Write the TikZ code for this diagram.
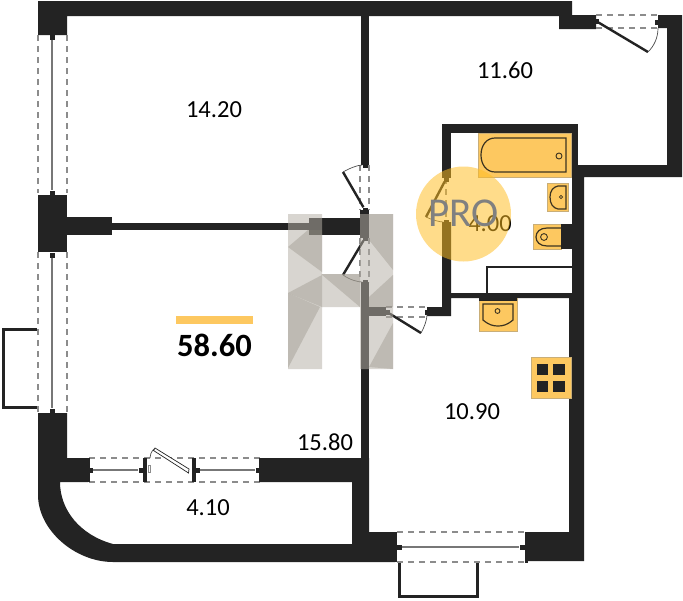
\documentclass[tikz,border=0pt]{standalone}
\usepackage{fontspec}
\setmainfont{Carlito}
\definecolor{wall}{HTML}{232323}
\definecolor{fixt}{HTML}{FDC860}
\definecolor{fixtedge}{HTML}{C9AE78}
\definecolor{logoa}{HTML}{B6B0A6}
\definecolor{logob}{HTML}{8A8578}
\definecolor{dashc}{HTML}{8C8C8C}
\definecolor{proc}{HTML}{FFBD20}
\tikzset{
  wallfill/.style={fill=wall,draw=none},
  glass/.style={draw=dashc,line width=1.1pt,dash pattern=on 6pt off 5pt},
  pane/.style={draw=dashc!85!black,line width=1.1pt},
  leaf/.style={draw=wall,line width=2.4pt},
  swing/.style={draw=wall!80,line width=.7pt},
  fixture/.style={fill=fixt,draw=fixtedge,line width=.6pt},
  fixline/.style={draw=wall!70!fixt!60!black,line width=1.2pt},
  thinwall/.style={draw=wall,line width=2.4pt},
  area/.style={text=black,font=\fontsize{24.5}{26}\selectfont,inner sep=0pt},
  logobase/.style={fill=logoa,fill opacity=.52,draw=none},
  logoshade/.style={fill=logob,fill opacity=.33,draw=none},
  stud/.style={fill=wall,draw=none,minimum size=5pt,inner sep=0pt,rectangle}
}
\begin{document}
\begin{tikzpicture}[x=1pt,y=-1pt]
\useasboundingbox (0,0) rectangle (683,600);
\fill[white] (0,0) rectangle (683,600);

% outer and partition walls
\fill[wallfill] (38,1) -- (572,1) -- (572,15) -- (596,15) -- (596,29) -- (559,29) -- (559,16) -- (67,16) -- (67,35) -- (38,35) -- cycle;
\fill[wallfill] (658,15) -- (682,15) -- (682,177) -- (584,177) -- (584,561) -- (525,561) -- (525,532) -- (569,532) -- (569,298) -- (572,298) -- (572,165) -- (667,165) -- (667,28) -- (658,28) -- cycle;
\fill[wallfill] (361,16) rectangle (369,165);
% bathroom box
\fill[wallfill] (442,124) rectangle (578,133);
\fill[wallfill] (572,124) rectangle (578,177);
\fill[wallfill] (442,124) rectangle (451,178);
\fill[wallfill] (442,222) -- (451,222) -- (451,293) -- (572,293) -- (572,298) -- (451,298) -- (451,316) -- (427,316) -- (427,307) -- (442,307) -- cycle;
\draw[thinwall] (487,293) -- (487,267) -- (572,267);
% bedroom divider
\fill[wallfill] (38,195) rectangle (67,252);
\fill[wallfill] (67,217) rectangle (112,235);
\fill[wallfill] (112,223) rectangle (310,230);
\fill[wallfill] (309,218) rectangle (369,235);
\fill[wallfill] (360,210) rectangle (369,238);
% central wall, lower
\fill[wallfill] (361,282) rectangle (369,532);
\fill[wallfill] (369,307) rectangle (386,316);
% loggia and lower-left block
\fill[wallfill] (38,413) -- (67,413) -- (67,458) -- (88,458) -- (88,482) -- (60,482)
  .. controls (60,510) and (80,535) .. (113,544) -- (352,544) -- (352,482) -- (260,482) -- (260,458) -- (369,458)
  -- (369,532) -- (395,532) -- (395,562) -- (113,562) .. controls (75,562) and (38,530) .. (38,495) -- cycle;

% left windows
\draw[glass] (38,35) -- (38,193) (67,35) -- (67,193);
\draw[glass] (38,252) -- (38,413) (67,252) -- (67,413);
\node[stud] (w1a) at (52,37) {};
\node[stud] (w1b) at (52,193) {};
\node[stud] (w2a) at (52,255) {};
\node[stud] (w2b) at (52,411) {};
\draw[pane] (w1a) -- (w1b);
\draw[pane] (w2a) -- (w2b);

% left balcony
\coordinate (lb1) at (37,329.5);
\coordinate (lb2) at (37,407.5);
\draw[draw=wall,line width=3pt] (lb1) -- (3.5,329.5) -- (3.5,407.5) -- (lb2);

% loggia window with door
\draw[glass] (89,458) -- (260,458) (89,482) -- (260,482);
\fill[wall] (87.5,458) rectangle (89.5,482);
\fill[wall] (259,458) rectangle (264,482);
\fill[wall] (143,458) rectangle (147,482);
\fill[wall] (192,458) rectangle (196,482);
\node[stud] (l1) at (90,470) {};
\node[stud] (l2) at (141,470) {};
\node[stud] (l3) at (197,470) {};
\node[stud] (l4) at (258,470) {};
\draw[pane] (l1) -- (l2);
\draw[pane] (l3) -- (l4);
\draw[draw=wall,line width=.7pt,fill=white] (189,469) -- (155,448) -- (153.5,450.5) -- (188.5,473) -- cycle;
\draw[swing] (154,449) .. controls (151,452) and (150,455) .. (150,458);
\draw[draw=dashc,line width=.7pt] (148,465) rectangle (150,472);

% bottom window and balcony
\draw[glass] (397,532) -- (525,532) (397,562) -- (525,562);
\fill[wall] (393,532) rectangle (397,562);
\fill[wall] (525,532) rectangle (528,563);
\node[stud] (b1) at (399,547) {};
\node[stud] (b2) at (522,547) {};
\draw[pane] (b1) -- (b2);
\coordinate (bb1) at (399,563);
\coordinate (bb2) at (477,563);
\draw[draw=wall,line width=3pt] (bb1) -- (399,596) -- (477,596) -- (bb2);

% top-right door
\draw[glass] (596,15) -- (658,15) (596,28) -- (658,28);
\node[stud] (d1h) at (596,21) {};
\coordinate (d1e) at (648,52);
\node[stud] (d1s) at (657,22) {};
\draw[leaf] (d1h) -- (d1e);
\draw[swing] (d1e) .. controls (654,46) and (658,38) .. (658,28);

% doors in the central wall
\draw[glass] (360,165) -- (360,210) (369,165) -- (369,210);
\draw[glass] (360,238) -- (360,282) (369,238) -- (369,282);
\node[stud] (d2a) at (365,165) {};
\node[stud] (d2b) at (365,210) {};
\coordinate (d2e) at (343,172);
\draw[leaf] (d2b) -- (d2e);
\draw[swing] (d2e) .. controls (350,168) and (358,165) .. (d2a);
\node[stud] (d3a) at (365,238) {};
\node[stud] (d3b) at (365,282) {};
\coordinate (d3e) at (343,275);
\draw[leaf] (d3a) -- (d3e);
\draw[swing] (d3e) .. controls (350,280) and (358,282) .. (d3b);

% corridor door
\draw[glass] (386,307) -- (427,307) (386,317) -- (427,317);
\node[stud] (d4a) at (387,312) {};
\node[stud] (d4b) at (427,312) {};
\coordinate (d4e) at (421,333);
\draw[leaf] (d4a) -- (d4e);
\draw[swing] (d4e) .. controls (424,328) and (427,320) .. (d4b);

% bathroom door
\draw[glass] (446,178) -- (446,222);
\node[stud] (d5a) at (446,179) {};
\node[stud] (d5b) at (446,222) {};
\coordinate (d5e) at (426,217);
\draw[leaf] (d5a) -- (d5e);
\draw[swing] (d5e) .. controls (432,220) and (440,222) .. (d5b);

% bath
\fill[fixture] (478,133) rectangle (571,177);
\draw[fixline] (495,138) -- (566,138) -- (566,172) -- (495,172) .. controls (486,172) and (481,164) .. (481,155) .. controls (481,146) and (486,138) .. (495,138) -- cycle;
\draw[fixline,line width=.9pt] (559,156) circle (3);
% washbasin in bathroom
\fill[fixture] (547,183) rectangle (568,211);
\draw[fixline] (566,186) -- (558,186) .. controls (553,187) and (550,191) .. (550,197) .. controls (550,204) and (553,208) .. (558,209) -- (566,209) -- cycle;
\draw[fixline,line width=.8pt] (561,197) circle (1.6);
% toilet
\fill[fixture] (533,224) rectangle (561,249);
\fill[wall] (561,224) rectangle (572,249);
\draw[fixline] (561,228) -- (547,228) .. controls (540,228) and (536,232) .. (536,237) .. controls (536,242) and (540,246) .. (547,246) -- (561,246);
\draw[fixline,line width=.9pt] (544,237) circle (3.4);
% kitchen sink
\fill[fixture] (479,298) rectangle (517,331);
\fill[wall] (479,298) rectangle (517,301);
\draw[fixline] (483,304) -- (513,304) -- (513,320) .. controls (507,325) and (503,326) .. (498,326) .. controls (493,326) and (489,325) .. (483,320) -- cycle;
\draw[fixline,line width=.9pt] (497.5,311) circle (2.4);
% stove
\fill[fixture] (531,357) rectangle (571,398);
\fill[wall] (537,364) rectangle (548,375);
\fill[wall] (553,364) rectangle (565,375);
\fill[wall] (537,381) rectangle (548,392);
\fill[wall] (553,381) rectangle (565,392);

% area labels
\node[area] (a1) at (214,110) {14.20};
\node[area] (a2) at (505,70) {11.60};
\node[area] (a3) at (490,224) {4.00};
\node[area] (a4) at (472,412) {10.90};
\node[area] (a5) at (325,442) {15.80};
\node[area] (a6) at (208,508) {4.10};
\fill[fixt] (176,316) rectangle (253,324);
\node[inner sep=0pt,font=\bfseries\fontsize{32.5}{34}\selectfont] (total) at (214.5,345) {58.60};

% watermark logo
\fill[logobase] (288,214) -- (322,214) -- (322,274) -- (360,274) -- (360,214) -- (393,214) -- (393,369) -- (360,369) -- (360,307) -- (322,307) -- (322,369) -- (288,369) -- cycle;
\fill[logoshade] (288,247) -- (308,230) -- (322,230) -- (322,272) -- cycle;
\fill[logoshade] (288,293) -- (322,275) -- (322,307) -- cycle;
\fill[logoshade] (288,293) -- (320,307) -- (288,368) -- cycle;
\fill[logoshade] (321,274) -- (360,274) -- (360,307) -- cycle;
\fill[logoshade] (369,214) -- (393,214) -- (393,270) -- (369,240) -- cycle;
\fill[logoshade] (393,275) -- (369,297) -- (369,307) -- (393,307) -- cycle;
\fill[logoshade] (369,367) -- (393,323) -- (393,369) -- cycle;

% PRO badge
\fill[proc,fill opacity=.52] (463.5,214) circle (47.5);
\node[inner sep=0pt,text=black!50,font=\fontsize{41}{43}\selectfont] (pro) at (463.5,213) {PRO};
\end{tikzpicture}
\end{document}
